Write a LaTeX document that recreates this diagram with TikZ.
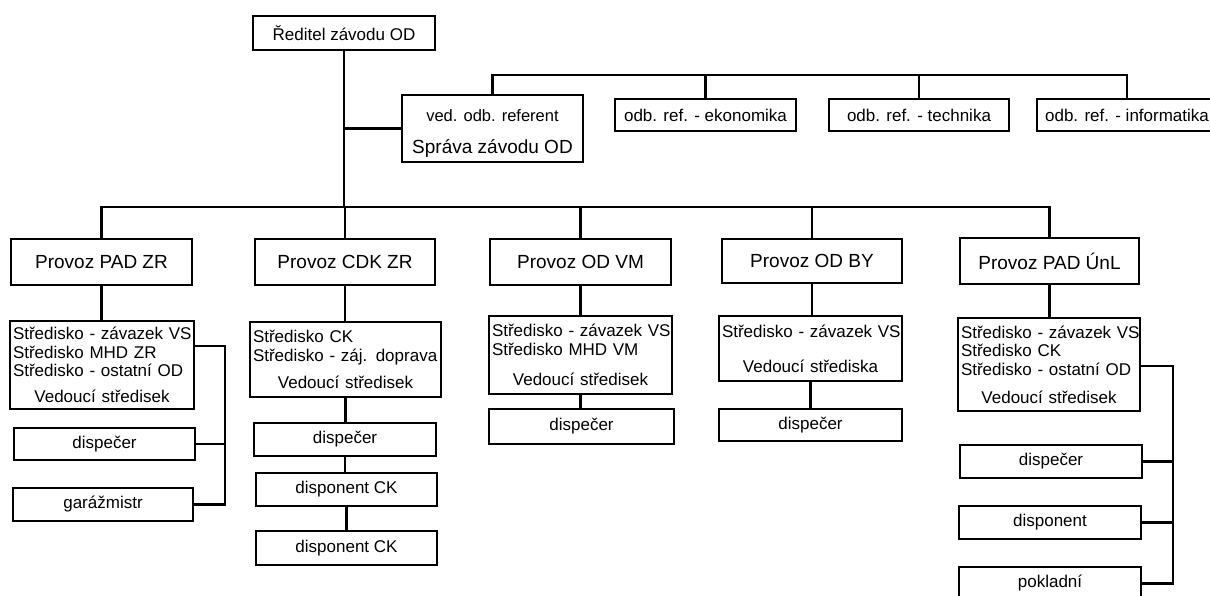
\documentclass[tikz,border=0pt]{standalone}
\usepackage{fontspec}
\setmainfont{Liberation Sans}
\newcommand\fnt{\fontsize{17pt}{18.5pt}\selectfont}
\newcommand\bigfnt{\fontsize{19pt}{21pt}\selectfont}
\newcommand\refnt{\fontsize{16.5pt}{18pt}\selectfont}
\tikzset{
  box/.style={draw, line width=2.8pt, inner sep=0pt, font=\fnt},
  bigbox/.style={box, font=\bigfnt},
  listbox/.style={box, align=left, inner xsep=3pt},
  link/.style={line width=2.8pt},
}

\begin{document}
\begin{tikzpicture}[x=1pt, y=-1pt]
  \useasboundingbox (0,0) rectangle (1210,596);
  \clip (0,0) rectangle (1210,596);

  \node[box, minimum width=182, minimum height=34] (red) at (344,33) {Ředitel závodu OD};
  \node[bigbox, align=center, minimum width=181, minimum height=67] (sprava) at (492.5,128.5)
    {\rule{0pt}{22pt}{\refnt ved. odb. referent}\\[11pt]Správa závodu OD};
  \node[box, minimum width=181, minimum height=32] (eko) at (705.5,115) {odb. ref. - ekonomika};
  \node[box, minimum width=180, minimum height=32] (tech) at (919,115) {odb. ref. - technika};
  \node[box, minimum width=180, minimum height=32] (info) at (1127,115) {odb. ref. - informatika};

  \coordinate (refbus) at (493,75);
  \coordinate (mainbus) at (345,207);

  \node[bigbox, minimum width=181, minimum height=46] (pad) at (101.5,262) {Provoz PAD ZR};
  \node[bigbox, minimum width=180, minimum height=46] (cdk) at (345,262) {Provoz CDK ZR};
  \node[bigbox, minimum width=181, minimum height=46] (vm) at (580.5,262) {Provoz OD VM};
  \node[bigbox, minimum width=180, minimum height=44] (by) at (812,261) {Provoz OD BY};
  \node[bigbox, minimum width=179, minimum height=46] (unl) at (1049.5,261) {Provoz PAD ÚnL};

  \node[listbox, text width=178, minimum height=88] (padS) at (102,365)
    {\mbox{Středisko - závazek VS}\\\mbox{Středisko MHD ZR}\\\mbox{Středisko - ostatní OD}\\[7.5pt]\makebox[\hsize]{Vedoucí středisek}};
  \node[listbox, text width=185, minimum height=75] (cdkS) at (345.5,359.5)
    {\mbox{Středisko CK}\\\mbox{Středisko - záj. doprava}\\[8.5pt]\makebox[\hsize]{Vedoucí středisek}};
  \node[listbox, text width=177, minimum height=78] (vmS) at (580.5,355)
    {\mbox{Středisko - závazek VS}\\\mbox{Středisko MHD VM}\\[11.5pt]\makebox[\hsize]{Vedoucí středisek}};
  \node[listbox, text width=177, minimum height=65] (byS) at (810.5,348.5)
    {\mbox{Středisko - závazek VS}\\[16.5pt]\makebox[\hsize]{Vedoucí střediska}};
  \node[listbox, text width=176, minimum height=93] (unlS) at (1049,364.5)
    {\mbox{Středisko - závazek VS}\\\mbox{Středisko CK}\\\mbox{Středisko - ostatní OD}\\[9.5pt]\makebox[\hsize]{Vedoucí středisek}};

  \node[box, minimum width=181, minimum height=32] (padD) at (104.5,444) {dispečer};
  \node[box, minimum width=180, minimum height=33] (padG) at (103,504.5) {garážmistr};
  \node[box, minimum width=182, minimum height=33] (cdkD) at (345,439.5) {dispečer};
  \node[box, minimum width=181, minimum height=33] (cdkK1) at (346.5,489.5) {disponent CK};
  \node[box, minimum width=181, minimum height=34] (cdkK2) at (346.5,548) {disponent CK};
  \node[box, minimum width=185, minimum height=35] (vmD) at (581.5,426.5) {dispečer};
  \node[box, minimum width=183, minimum height=32] (byD) at (810.5,425) {dispečer};
  \node[box, minimum width=182, minimum height=33] (unlD) at (1051,461.5) {dispečer};
  \node[box, minimum width=182, minimum height=33] (unlP) at (1050,522.5) {disponent};
  \node[box, minimum width=182, minimum height=33] (unlK) at (1050,583.5) {pokladní};

  \coordinate (padside) at (225,346);
  \coordinate (unlside) at (1173,366);

  \draw[link] (red.south) -- (red.south |- mainbus);
  \draw[link] (red.south |- sprava.west) -- (sprava.west);
  \draw[link] (sprava.north) -- (sprava.north |- refbus) -- (info.north |- refbus) -- (info.north);
  \foreach \n in {eko, tech}
    \draw[link] (\n.north) -- (\n.north |- refbus);

  \draw[link] (pad.north) -- (pad.north |- mainbus) -- (unl.north |- mainbus) -- (unl.north);
  \foreach \n in {cdk, vm, by}
    \draw[link] (\n.north) -- (\n.north |- mainbus);

  \foreach \a/\b in {pad/padS, cdk/cdkS, vm/vmS, by/byS, unl/unlS, cdkS/cdkD, cdkD/cdkK1, cdkK1/cdkK2, vmS/vmD, byS/byD}
    \draw[link] (\a.south) -- (\a.south |- \b.north);

  \draw[link] (padS.east |- padside) -- (padside) |- (padG.east);
  \draw[link] (padD.east) -- (padD.east -| padside);
  \draw[link] (unlS.east |- unlside) -- (unlside) |- (unlK.east);
  \foreach \n in {unlD, unlP}
    \draw[link] (\n.east) -- (\n.east -| unlside);
\end{tikzpicture}
\end{document}
